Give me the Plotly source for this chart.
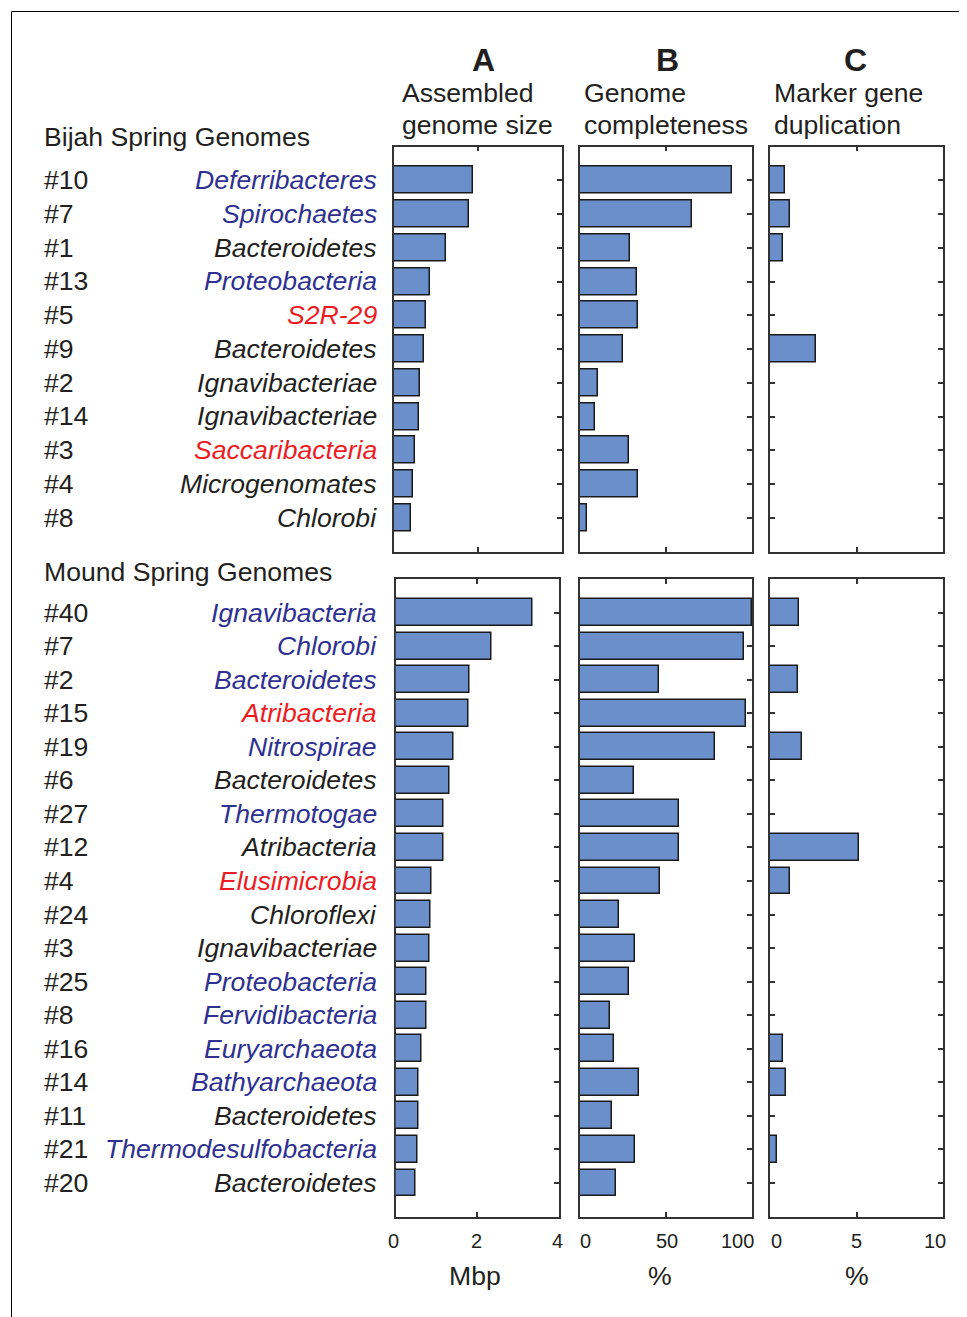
import plotly.graph_objects as go

# Page offset: the browser body has an 8px margin, so the figure is sized to fit.
OFF = 8
W, H = 967 - OFF, 1317 - OFF
FONT = "Liberation Sans, Arial, sans-serif"
FS = 26.6
BLACK = "#231F20"
BLUE = "#2E3192"
RED = "#ED1C24"
BAR = "#6B8FCB"

# ---------------- data ----------------
bijah_ids = ["#10", "#7", "#1", "#13", "#5", "#9", "#2", "#14", "#3", "#4", "#8"]
bijah_taxa = ["Deferribacteres", "Spirochaetes", "Bacteroidetes", "Proteobacteria", "S2R-29",
              "Bacteroidetes", "Ignavibacteriae", "Ignavibacteriae", "Saccaribacteria",
              "Microgenomates", "Chlorobi"]
bijah_colors = ["blue", "blue", "black", "blue", "red", "black", "black", "black", "red",
                "black", "black"]
bijah_size = [1.88, 1.80, 1.23, 0.86, 0.77, 0.71, 0.63, 0.59, 0.49, 0.45, 0.41]
bijah_complete = [88.2, 64.9, 29.1, 33.0, 33.9, 25.2, 10.3, 8.5, 28.5, 33.7, 4.1]
bijah_dup = [0.89, 1.18, 0.77, 0, 0, 2.66, 0, 0, 0, 0, 0]

mound_ids = ["#40", "#7", "#2", "#15", "#19", "#6", "#27", "#12", "#4", "#24", "#3", "#25",
             "#8", "#16", "#14", "#11", "#21", "#20"]
mound_taxa = ["Ignavibacteria", "Chlorobi", "Bacteroidetes", "Atribacteria", "Nitrospirae",
              "Bacteroidetes", "Thermotogae", "Atribacteria", "Elusimicrobia", "Chloroflexi",
              "Ignavibacteriae", "Proteobacteria", "Fervidibacteria", "Euryarchaeota",
              "Bathyarchaeota", "Bacteroidetes", "Thermodesulfobacteria", "Bacteroidetes"]
mound_colors = ["blue", "blue", "blue", "red", "blue", "black", "blue", "black", "red", "black",
                "black", "blue", "blue", "blue", "blue", "black", "blue", "black"]
mound_size = [3.35, 2.34, 1.82, 1.79, 1.43, 1.32, 1.18, 1.18, 0.88, 0.85, 0.84, 0.76, 0.75,
              0.64, 0.57, 0.57, 0.54, 0.50]
mound_complete = [100, 95.1, 46.2, 96.5, 78.6, 31.3, 57.7, 57.3, 46.4, 22.5, 31.8, 28.3, 17.3,
                  19.6, 34.2, 18.8, 31.8, 20.8]
mound_dup = [1.68, 0, 1.60, 0, 1.83, 0, 0, 5.12, 1.14, 0, 0, 0, 0, 0.77, 0.93, 0, 0.42, 0]

col_letters = ["A", "B", "C"]
col_titles = [["Assembled", "genome size"], ["Genome", "completeness"],
              ["Marker gene", "duplication"]]
x_ranges = [[0, 4], [0, 100], [0, 10]]
x_tickvals = [[0, 2, 4], [0, 50, 100], [0, 5, 10]]
x_ticktext = [["0", "2", "4"], ["0", "50", "100"], ["0", "5", "10"]]
x_units = ["Mbp", "%", "%"]
section_titles = ["Bijah Spring Genomes", "Mound Spring Genomes"]

color_map = {"blue": BLUE, "red": RED, "black": BLACK}

# ---------------- layout geometry (reference pixels) ----------------
def px(x):
    return (x - OFF) / W

def py(y):
    return 1 - (y - OFF) / H

row_y = [(146.5, 551.5), (579, 1216.5)]
col_x = [[(394, 561.5), (580, 752), (770, 943)],
         [(395.5, 559), (580, 752), (770, 943)]]
# small horizontal nudges of the bottom tick labels (px), as in the reference
tick_shift = [[-2, -1, -2], [5, 1, -15], [6, 0, -8]]

fig = go.Figure()

rows = [
    (bijah_ids, bijah_taxa, bijah_colors, [bijah_size, bijah_complete, bijah_dup]),
    (mound_ids, mound_taxa, mound_colors, [mound_size, mound_complete, mound_dup]),
]

TXT = dict(showarrow=False, borderpad=0, borderwidth=0)

annotations = []
axis_style = dict(showline=True, linecolor="#333333", linewidth=1.5, mirror="ticks",
                  ticks="inside", ticklen=5, tickwidth=1.5, tickcolor="#333333",
                  showgrid=False, zeroline=False, fixedrange=True, automargin=False)

k = 0
for r, (ids, taxa, cols, series) in enumerate(rows):
    n = len(ids)
    pos = list(range(1, n + 1))
    for c in range(3):
        k += 1
        xa = "x" if k == 1 else f"x{k}"
        ya = "y" if k == 1 else f"y{k}"
        fig.add_trace(go.Bar(
            x=series[c], y=pos, orientation="h", width=0.8,
            marker=dict(color=BAR, line=dict(color="#1A1A1A", width=1.5)),
            xaxis=xa, yaxis=ya, showlegend=False, hoverinfo="x+y",
        ))
        x0, x1 = col_x[r][c]
        y0, y1 = row_y[r]
        xkey = "xaxis" if k == 1 else f"xaxis{k}"
        ykey = "yaxis" if k == 1 else f"yaxis{k}"
        fig.layout[xkey] = dict(
            axis_style, domain=[px(x0), px(x1)], anchor=ya, range=x_ranges[c],
            tickvals=x_tickvals[c], showticklabels=False,
        )
        fig.layout[ykey] = dict(
            axis_style, domain=[py(y1), py(y0)], anchor=xa, range=[n + 1, 0],
            tickvals=pos, showticklabels=False, layer="below traces",
        )
        if r == 1:
            for v, t, s in zip(x_tickvals[c], x_ticktext[c], tick_shift[c]):
                annotations.append(dict(
                    TXT, x=v, y=py(1241), xref=xa, yref="paper", text=t,
                    xanchor="center", yanchor="middle", xshift=s,
                    font=dict(family=FONT, size=20, color=BLACK)))
    # category labels
    ya = "y" if r == 0 else "y4"
    for i in range(n):
        annotations.append(dict(
            TXT, x=px(44), y=i + 1, xref="paper", yref=ya, text=ids[i],
            xanchor="left", yanchor="middle",
            font=dict(family=FONT, size=FS, color=BLACK)))
        annotations.append(dict(
            TXT, x=px(377), y=i + 1, xref="paper", yref=ya, text=f"<i>{taxa[i]}</i>",
            xanchor="right", yanchor="middle",
            font=dict(family=FONT, size=FS, color=color_map[cols[i]])))

# section titles
for t, yy in zip(section_titles, [137, 572]):
    annotations.append(dict(TXT, x=px(44), y=py(yy), xref="paper", yref="paper", text=t,
                            xanchor="left", yanchor="middle",
                            font=dict(family=FONT, size=FS, color=BLACK)))

# column headers
letter_x = [483, 667, 855]
title_x = [402, 584, 774]
for c in range(3):
    annotations.append(dict(TXT, x=px(letter_x[c]), y=py(60), xref="paper", yref="paper",
                            text=f"<b>{col_letters[c]}</b>",
                            xanchor="center", yanchor="middle",
                            font=dict(family=FONT, size=32, color=BLACK)))
    for j, line in enumerate(col_titles[c]):
        annotations.append(dict(TXT, x=px(title_x[c]), y=py(93 + 32 * j), xref="paper",
                                yref="paper", text=line,
                                xanchor="left", yanchor="middle",
                                font=dict(family=FONT, size=FS, color=BLACK)))

# x-axis unit labels
unit_x = [475, 660, 857]
for c in range(3):
    annotations.append(dict(TXT, x=px(unit_x[c]), y=py(1276), xref="paper", yref="paper",
                            text=x_units[c], xanchor="center", yanchor="middle",
                            font=dict(family=FONT, size=FS, color=BLACK)))

# page border (top and left rules)
shapes = [
    dict(type="line", xref="paper", yref="paper", x0=px(11.5), x1=1.02,
         y0=py(11.5), y1=py(11.5), line=dict(color="black", width=1)),
    dict(type="line", xref="paper", yref="paper", x0=px(11.5), x1=px(11.5),
         y0=py(11.5), y1=-0.02, line=dict(color="black", width=1)),
]

fig.update_layout(
    template="none",
    width=W, height=H, margin=dict(l=0, r=0, t=0, b=0, pad=0, autoexpand=False),
    paper_bgcolor="white", plot_bgcolor="white",
    annotations=annotations, shapes=shapes, bargap=0,
    font=dict(family=FONT, color=BLACK), hovermode="closest",
)

fig.write_html("out.html")
